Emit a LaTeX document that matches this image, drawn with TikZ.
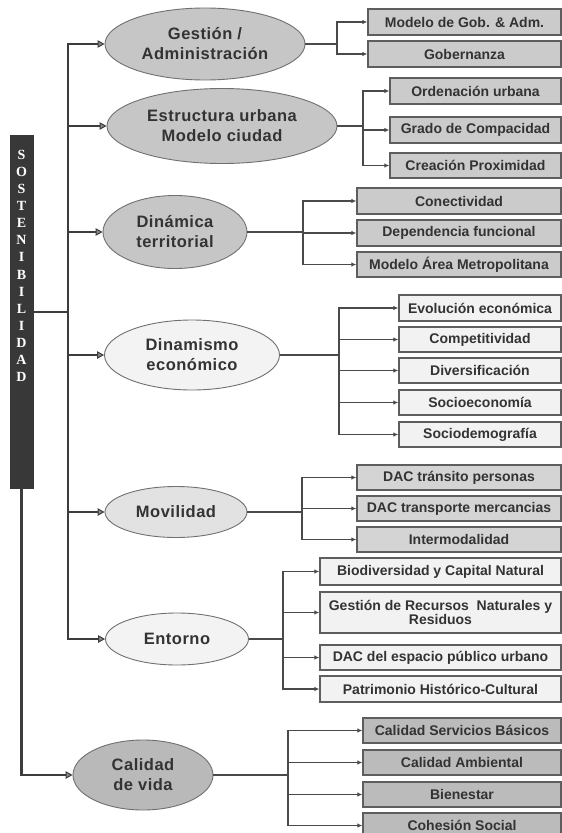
\documentclass[tikz,border=0pt]{standalone}
\usepackage{fontspec}
\setmainfont{Liberation Sans}
\newfontfamily\barfont{Liberation Serif}
\newfontfamily\ellfont[LetterSpace=3]{Liberation Sans}
\usetikzlibrary{shapes.geometric,arrows.meta}
\definecolor{trk}{HTML}{3C3C3C}
\definecolor{lin}{HTML}{4A4A4A}
\definecolor{ellline}{HTML}{707070}
\definecolor{boxline}{HTML}{5E5E5E}
\definecolor{txt}{HTML}{333333}
\definecolor{barfill}{HTML}{383838}
\definecolor{arrfill}{HTML}{8A8A8A}
\definecolor{fmid}{HTML}{C6C6C6}
\definecolor{fwhite}{HTML}{F3F3F3}
\definecolor{flight}{HTML}{E2E2E2}
\definecolor{fdark}{HTML}{B9B9B9}
\definecolor{bmid}{HTML}{CBCBCB}
\definecolor{bwhite}{HTML}{F2F2F2}
\definecolor{blight}{HTML}{D4D4D4}
\definecolor{bdark}{HTML}{BBBBBB}
\tikzset{
  ell/.style={ellipse, draw=ellline, line width=0.9pt, inner sep=0pt, align=center,
    text=txt, font=\ellfont\bfseries\fontsize{16.5}{20}\selectfont},
  boxn/.style={rectangle, draw=boxline, line width=1.3pt, inner sep=0pt, align=center,
    text=txt, font=\bfseries\fontsize{14}{14.5}\selectfont},
  thinline/.style={draw=lin, line width=1.2pt},
  conn/.style={draw=lin, line width=1.2pt, -{Latex[length=5pt,width=4.5pt]}},
  trunk/.style={draw=trk, line width=2.8pt},
  tip/.tip={Triangle[length=7pt,width=7.5pt,fill=arrfill,line width=1pt]},
}
\begin{document}
\begin{tikzpicture}[x=1pt,y=-1pt]
\useasboundingbox (0,0) rectangle (562,833);
\clip (0,0) rectangle (562,833);

% vertical bar
\node[rectangle, fill=barfill, draw=barfill, minimum width=23pt, minimum height=353pt, inner sep=0pt] (bar) at (21.5,311.5) {};
\node[anchor=north, inner sep=0pt, text=white, align=center, font=\barfont\bfseries\fontsize{14}{17.08}\selectfont] (sost) at (21.5,150)
  {S\\O\\S\\T\\E\\N\\I\\B\\I\\L\\I\\D\\A\\D};

% ellipses
\node[ell, fill=fmid, minimum width=200pt, minimum height=72pt] (e1) at (205,44) {Gestión /\\Administración};
\node[ell, fill=fmid, minimum width=230pt, minimum height=75pt] (e2) at (222,126) {Estructura urbana\\Modelo ciudad};
\node[ell, fill=fmid, minimum width=144pt, minimum height=73pt] (e3) at (175,232) {Dinámica\\territorial};
\node[ell, fill=fwhite, minimum width=175pt, minimum height=70pt] (e4) at (192,355) {Dinamismo\\económico};
\node[ell, fill=flight, minimum width=142pt, minimum height=51pt] (e5) at (176,512) {Movilidad};
\node[ell, fill=fwhite, minimum width=143pt, minimum height=52pt] (e6) at (177,639) {Entorno};
\node[ell, fill=fdark, minimum width=140pt, minimum height=70pt] (e7) at (143,775) {Calidad\\de vida};

% trunk
\coordinate (tTop) at (68,44);
\coordinate (tBot) at (68,639);
\coordinate (tMid) at (68,312);
\draw[trunk, {tip}-{tip}] (e1.west) -- (tTop) -- (tBot) -- (e6.west);
\draw[trunk] (bar.east |- tMid) -- (tMid);
\draw[trunk, -{tip}] (tTop |- e2.west) -- (e2.west);
\draw[trunk, -{tip}] (tTop |- e3.west) -- (e3.west);
\draw[trunk, -{tip}] (tTop |- e4.west) -- (e4.west);
\draw[trunk, -{tip}] (tTop |- e5.west) -- (e5.west);
\draw[trunk, -{tip}] (bar.south) |- (e7.west);

% boxes: Gestion
\node[boxn, fill=bmid, minimum width=193pt, minimum height=26pt] (b11) at (464.5,22) {Modelo de Gob. \& Adm.};
\node[boxn, fill=bmid, minimum width=193pt, minimum height=26pt] (b12) at (464.5,54) {Gobernanza};
% Estructura
\node[boxn, fill=bmid, minimum width=171pt, minimum height=26pt] (b21) at (475.5,91) {Ordenación urbana};
\node[boxn, fill=bmid, minimum width=171pt, minimum height=26pt] (b22) at (475.5,130) {Grado de Compacidad};
\node[boxn, fill=bmid, minimum width=171pt, minimum height=25pt] (b23) at (475.5,165.5) {Creación Proximidad};
% Dinamica
\node[boxn, fill=bmid, minimum width=204pt, minimum height=26pt] (b31) at (459,201) {Conectividad};
\node[boxn, fill=bmid, minimum width=204pt, minimum height=26pt] (b32) at (459,233) {Dependencia funcional};
\node[boxn, fill=bmid, minimum width=204pt, minimum height=25pt] (b33) at (459,264.5) {Modelo Área Metropolitana};
% Dinamismo
\node[boxn, fill=bwhite, minimum width=162pt, minimum height=26pt] (b41) at (480,308) {Evolución económica};
\node[boxn, fill=bwhite, minimum width=162pt, minimum height=25pt] (b42) at (480,339.5) {Competitividad};
\node[boxn, fill=bwhite, minimum width=162pt, minimum height=25pt] (b43) at (480,370.5) {Diversificación};
\node[boxn, fill=bwhite, minimum width=162pt, minimum height=25pt] (b44) at (480,402.5) {Socioeconomía};
\node[boxn, fill=bwhite, minimum width=162pt, minimum height=25pt] (b45) at (480,434.5) {Sociodemografía};
% Movilidad
\node[boxn, fill=blight, minimum width=204pt, minimum height=25pt] (b51) at (459,477.5) {DAC tránsito personas};
\node[boxn, fill=blight, minimum width=204pt, minimum height=25pt] (b52) at (459,508.5) {DAC transporte mercancias};
\node[boxn, fill=blight, minimum width=204pt, minimum height=25pt] (b53) at (459,539.5) {Intermodalidad};
% Entorno
\node[boxn, fill=bwhite, minimum width=241pt, minimum height=27pt] (b61) at (440.5,571.5) {Biodiversidad y Capital Natural};
\node[boxn, fill=bwhite, minimum width=241pt, minimum height=41pt] (b62) at (440.5,612.5) {Gestión de Recursos\ \ Naturales y\\Residuos};
\node[boxn, fill=bwhite, minimum width=241pt, minimum height=25pt] (b63) at (440.5,657.5) {DAC del espacio público urbano};
\node[boxn, fill=bwhite, minimum width=241pt, minimum height=26pt] (b64) at (440.5,689) {Patrimonio Histórico-Cultural};
% Calidad
\node[boxn, fill=bdark, minimum width=198pt, minimum height=25pt] (b71) at (462,730.5) {Calidad Servicios Básicos};
\node[boxn, fill=bdark, minimum width=198pt, minimum height=25pt] (b72) at (462,762.5) {Calidad Ambiental};
\node[boxn, fill=bdark, minimum width=198pt, minimum height=25pt] (b73) at (462,794.5) {Bienestar};
\node[boxn, fill=bdark, minimum width=198pt, minimum height=25pt] (b74) at (462,825.5) {Cohesión Social};

% junctions
\coordinate (j1) at (337,44);
\coordinate (j2) at (363,126);
\coordinate (j3) at (303,232);
\coordinate (j4) at (339,355);
\coordinate (j5) at (302,512);
\coordinate (j6) at (283,639);
\coordinate (j7) at (288,775);

\draw[thinline] (e1.east) -- (j1);
\draw[conn] (j1) |- (b11.west);
\draw[conn] (j1) |- (b12.west);

\draw[thinline] (e2.east) -- (j2);
\draw[conn] (j2) |- (b21.west);
\draw[conn] (j2) |- (b22.west);
\draw[conn] (j2) |- (b23.west);

\draw[thinline] (e3.east) -- (j3);
\draw[conn] (j3) |- (b31.west);
\draw[conn] (j3) |- (b32.west);
\draw[conn] (j3) |- (b33.west);

\draw[thinline] (e4.east) -- (j4);
\draw[conn] (j4) |- (b41.west);
\draw[conn] (j4) |- (b42.west);
\draw[conn] (j4) |- (b43.west);
\draw[conn] (j4) |- (b44.west);
\draw[conn] (j4) |- (b45.west);

\draw[thinline] (e5.east) -- (j5);
\draw[conn] (j5) |- (b51.west);
\draw[conn] (j5) |- (b52.west);
\draw[conn] (j5) |- (b53.west);

\draw[thinline] (e6.east) -- (j6);
\draw[conn] (j6) |- (b61.west);
\draw[conn] (j6) |- (b62.west);
\draw[conn] (j6) |- (b63.west);
\draw[conn] (j6) |- (b64.west);

\draw[thinline] (e7.east) -- (j7);
\draw[conn] (j7) |- (b71.west);
\draw[conn] (j7) |- (b72.west);
\draw[conn] (j7) |- (b73.west);
\draw[conn] (j7) |- (b74.west);
\end{tikzpicture}
\end{document}
